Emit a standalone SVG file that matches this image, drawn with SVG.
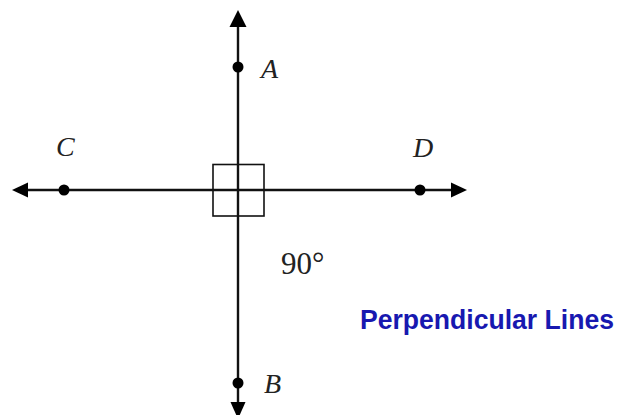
<svg xmlns="http://www.w3.org/2000/svg" width="621" height="415" viewBox="0 0 621 415">
<style>
.ln{stroke:#111;stroke-width:2.4;fill:none}
.dot{fill:#000}
.ah{fill:#000}
.lbl{font-family:"Liberation Serif","DejaVu Serif",serif;font-style:italic;font-size:28px;fill:#222}
.deg{font-family:"Liberation Serif","DejaVu Serif",serif;font-size:31px;fill:#222}
.title{font-family:"Liberation Sans",Arial,sans-serif;font-weight:bold;font-size:27px;fill:#1818b0}
</style>
<rect width="621" height="415" fill="#fff"/>
<g id="connectors">
<line class="ln" x1="238" y1="24" x2="238" y2="405"/>
<line class="ln" x1="25" y1="190" x2="453" y2="190"/>
<polygon class="ah" points="238,10 229.5,27 246.5,27"/>
<polygon class="ah" points="238,419 230.5,402 245.5,402"/>
<polygon class="ah" points="12,190 28,182.5 28,197.5"/>
<polygon class="ah" points="467,190 451,182.5 451,197.5"/>
<rect x="213" y="164.5" width="51" height="51.5" fill="none" stroke="#111" stroke-width="1.6"/>
</g>
<g id="A"><circle class="dot" cx="238" cy="67" r="5.5"/><text class="lbl" x="261" y="78">A</text></g>
<g id="B"><circle class="dot" cx="238" cy="383" r="5.5"/><text class="lbl" x="264" y="393">B</text></g>
<g id="C"><circle class="dot" cx="64" cy="190" r="5.5"/><text class="lbl" x="56" y="156">C</text></g>
<g id="D"><circle class="dot" cx="420" cy="190" r="5.5"/><text class="lbl" x="413" y="157">D</text></g>
<g id="angle"><text class="deg" x="281" y="274">90°</text></g>
<g id="title"><text class="title" x="360" y="329" textLength="254" lengthAdjust="spacingAndGlyphs">Perpendicular Lines</text></g>
</svg>
